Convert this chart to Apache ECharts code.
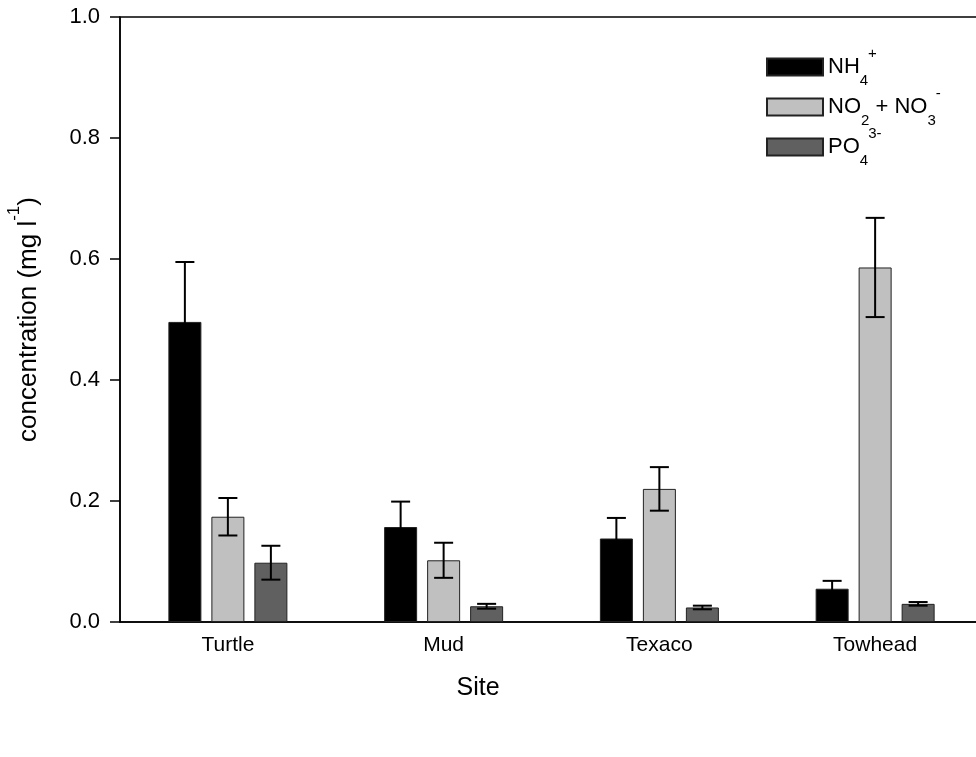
<!DOCTYPE html>
<html>
<head>
<meta charset="utf-8">
<script src="https://cdn.jsdelivr.net/npm/echarts@6/dist/echarts.min.js"></script>
<style>html,body{margin:0;padding:0;background:#fff}#c{width:976px;height:757px}</style>
</head>
<body>
<div id="c"></div>
<script>
// ---- data ----
const sites = ['Turtle', 'Mud', 'Texaco', 'Towhead'];
const nh4 = [0.496, 0.157, 0.138, 0.055];
const nh4Err = [0.099, 0.042, 0.034, 0.013];
const nox = [0.174, 0.102, 0.220, 0.586];
const noxErr = [0.031, 0.029, 0.036, 0.082];
const po4 = [0.098, 0.026, 0.024, 0.030];
const po4Err = [0.028, 0.004, 0.003, 0.003];
const yTicks = [0, 0.2, 0.4, 0.6, 0.8, 1.0];

const seriesNames = ['NH4', 'NOx', 'PO4'];
const seriesVals = [nh4, nox, po4];
const seriesErrs = [nh4Err, noxErr, po4Err];
const colors = ['#000000', '#c0c0c0', '#606060'];

const BAR_W = 33, BAR_GAPPX = 10, CAP = 19;
const FONT = 'Liberation Sans, Arial, sans-serif';

const chart = echarts.init(document.getElementById('c'), null, {renderer: 'canvas'});

const legendLabels = {
  NH4: '{b|NH}{sub|4}{sup|+}',
  NOx: '{b|NO}{sub|2}{b| + NO}{sub|3}{sup|-}',
  PO4: '{b|PO}{sub|4}{sup|3-}'
};

const barSeries = seriesNames.map((n, k) => ({
  name: n,
  type: 'bar',
  barWidth: BAR_W,
  barGap: (BAR_GAPPX / BAR_W * 100) + '%',
  data: seriesVals[k],
  itemStyle: {color: colors[k], borderColor: '#222', borderWidth: 1},
  z: 2
}));

const errSeries = seriesNames.map((n, k) => ({
  type: 'custom',
  name: n + '_err',
  data: sites.map((s, i) => [i, seriesVals[k][i] - seriesErrs[k][i], seriesVals[k][i] + seriesErrs[k][i]]),
  z: 5,
  silent: true,
  renderItem: function (params, api) {
    const off = (k - 1) * (BAR_W + BAR_GAPPX);
    const lo = api.coord([api.value(0), api.value(1)]);
    const hi = api.coord([api.value(0), api.value(2)]);
    const x = lo[0] + off;
    const st = {stroke: '#000', lineWidth: 2, fill: null};
    return {
      type: 'group',
      children: [
        {type: 'line', shape: {x1: x, y1: lo[1], x2: x, y2: hi[1]}, style: st},
        {type: 'line', shape: {x1: x - CAP / 2, y1: lo[1], x2: x + CAP / 2, y2: lo[1]}, style: st},
        {type: 'line', shape: {x1: x - CAP / 2, y1: hi[1], x2: x + CAP / 2, y2: hi[1]}, style: st}
      ]
    };
  }
}));

const option = {
  animation: false,
  backgroundColor: '#fff',
  textStyle: {fontFamily: FONT},
  grid: {left: 120, width: 863, top: 17, height: 605, outerBoundsMode: 'none', containLabel: false, show: true, borderColor: '#000', borderWidth: 1.5, backgroundColor: 'transparent'},
  legend: {
    orient: 'vertical',
    left: 761,
    top: 41,
    itemWidth: 56,
    itemHeight: 17,
    itemGap: -2,
    icon: 'rect',
    data: seriesNames,
    formatter: function (name) { return legendLabels[name]; },
    textStyle: {
      color: '#000',
      rich: {
        b: {fontSize: 22, fontFamily: FONT, color: '#000', lineHeight: 26, verticalAlign: 'middle'},
        sub: {fontSize: 15, fontFamily: FONT, color: '#000', lineHeight: 12, verticalAlign: 'bottom', padding: [0, 0, -8, 0]},
        sup: {fontSize: 15, fontFamily: FONT, color: '#000', lineHeight: 12, verticalAlign: 'top', padding: [-8, 0, 0, 0]}
      }
    }
  },
  xAxis: {
    type: 'category',
    data: sites,
    name: 'Site',
    nameLocation: 'middle',
    nameGap: 54,
    nameTextStyle: {fontSize: 25, color: '#000', fontFamily: FONT, padding: [0, 147, 0, 0]},
    axisLine: {lineStyle: {color: '#000', width: 1.5}},
    axisTick: {alignWithLabel: true, length: 9, lineStyle: {color: '#000', width: 1.5}},
    axisLabel: {fontSize: 21, color: '#000', margin: 13, fontFamily: FONT},
    splitLine: {show: false}
  },
  yAxis: {
    type: 'value',
    min: 0,
    max: 1,
    interval: 0.2,
    name: 'concentration (mg l{sup|-1})',
    nameLocation: 'middle',
    nameGap: 78,
    nameTextStyle: {
      fontSize: 26, color: '#000', fontFamily: FONT,
      rich: {sup: {fontSize: 17, fontFamily: FONT, color: '#000', verticalAlign: 'top', padding: [-10, 0, 0, 0]}}
    },
    axisLine: {show: true, lineStyle: {color: '#000', width: 1.5}},
    axisTick: {show: true, length: 10, lineStyle: {color: '#000', width: 1.5}},
    axisLabel: {fontSize: 22, color: '#000', margin: 20, fontFamily: FONT, formatter: v => v.toFixed(1)},
    splitLine: {show: false}
  },
  series: barSeries.concat(errSeries)
};
chart.setOption(option);
</script>
</body>
</html>
